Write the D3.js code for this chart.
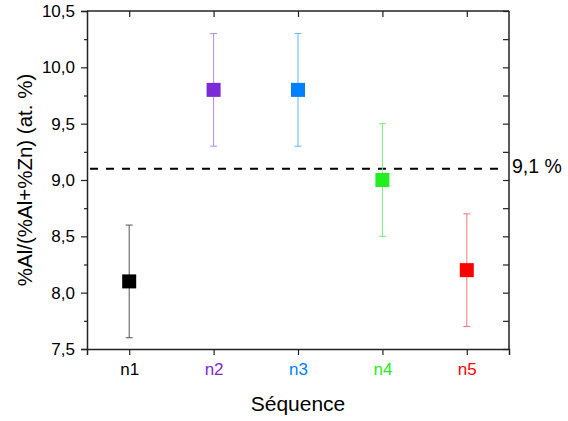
<!DOCTYPE html>
<html><head><meta charset="utf-8">
<script src="https://cdn.jsdelivr.net/npm/d3@7"></script>
<style>body{margin:0;background:#fff}svg{display:block}text{font-family:"Liberation Sans",Arial,sans-serif}</style>
</head><body><svg id="c" width="568" height="421"></svg>
<script>
const categories = ["n1","n2","n3","n4","n5"];
const values = [8.1, 9.8, 9.8, 9.0, 8.2];
const errors = [0.5, 0.5, 0.5, 0.5, 0.5];
const colors = ["#000000","#7B2AD8","#0080FF","#22EE22","#FF0000"];
const barColors = ["#555555","#B48AE8","#66B3FF","#77EE77","#FF7777"];
const yTicks = [7.5, 8.0, 8.5, 9.0, 9.5, 10.0, 10.5];
const refValue = 9.1;
const refLabel = "9,1 %";
const xTitle = "Séquence";
const yTitle = "%Al/(%Al+%Zn) (at. %)";

const svg = d3.select("#c");
const L = 87, R = 509, T = 11, B = 349;
const x = d3.scaleLinear().domain([0.5, 5.5]).range([L, R]);
const y = d3.scaleLinear().domain([7.5, 10.5]).range([B, T]);
const fmt = d => d.toFixed(1).replace(".", ",");
const minor = d3.range(7.75, 10.5, 0.5);

// left axis
const gl = svg.append("g").attr("transform", `translate(${L},0)`)
  .call(d3.axisLeft(y).tickValues(yTicks).tickFormat(fmt).tickSize(6).tickPadding(6));
svg.append("g").attr("transform", `translate(${L},0)`)
  .call(d3.axisLeft(y).tickValues(minor).tickFormat("").tickSize(3)).select(".domain").remove();
// right axis
svg.append("g").attr("transform", `translate(${R},0)`)
  .call(d3.axisLeft(y).tickValues(d3.range(7.5, 10.51, 0.25)).tickFormat("").tickSize(6))
  .call(g => g.selectAll(".tick line").attr("x2", -6)).select(".domain").attr("d", `M0,${T}V${B}`);
// bottom axis
const gb = svg.append("g").attr("transform", `translate(0,${B})`)
  .call(d3.axisBottom(x).tickValues([1,2,3,4,5]).tickFormat(i => categories[i-1]).tickSize(6).tickPadding(8));
gb.selectAll(".tick text").attr("fill", (d) => colors[d-1]);
// top axis
svg.append("g").attr("transform", `translate(0,${T})`)
  .call(d3.axisBottom(x).tickValues([1,2,3,4,5]).tickFormat("").tickSize(6)).select(".domain").attr("d", `M${L},0H${R}`);

svg.selectAll(".domain").attr("stroke", "#222").attr("stroke-width", 1.5);
svg.selectAll(".tick line").attr("stroke", "#222").attr("stroke-width", 1.2);
svg.selectAll(".tick text").attr("font-size", 17).attr("font-family", '"Liberation Sans",Arial,sans-serif');
gl.selectAll(".tick text").attr("fill", "#000");

// reference line
svg.append("line").attr("x1", L + 3).attr("x2", R - 4)
  .attr("y1", y(refValue)).attr("y2", y(refValue))
  .attr("stroke", "#000").attr("stroke-width", 2).attr("stroke-dasharray", "8,8");
svg.append("text").attr("x", R + 3).attr("y", y(refValue) + 4)
  .attr("font-size", 19.5).text(refLabel);

// error bars
const eb = svg.append("g");
categories.forEach((c, i) => {
  const cx = x(i + 1);
  const g = eb.append("g").attr("stroke", barColors[i]).attr("stroke-width", 1);
  g.append("line").attr("x1", cx).attr("x2", cx).attr("y1", y(values[i] + errors[i])).attr("y2", y(values[i] - errors[i]));
  g.append("line").attr("x1", cx - 3.5).attr("x2", cx + 3.5).attr("y1", y(values[i] + errors[i])).attr("y2", y(values[i] + errors[i]));
  g.append("line").attr("x1", cx - 3.5).attr("x2", cx + 3.5).attr("y1", y(values[i] - errors[i])).attr("y2", y(values[i] - errors[i]));
});
// markers
svg.append("g").selectAll("rect").data(values).join("rect")
  .attr("x", (d, i) => x(i + 1) - 7).attr("y", d => y(d) - 7)
  .attr("width", 14).attr("height", 14)
  .attr("fill", (d, i) => colors[i]);

// titles
svg.append("text").attr("x", (L + R) / 2).attr("y", 411).attr("text-anchor", "middle")
  .attr("font-size", 21).text(xTitle);
svg.append("text").attr("transform", `translate(32,${(T + B) / 2}) rotate(-90)`)
  .attr("text-anchor", "middle").attr("font-size", 20.5).text(yTitle);
</script></body></html>
